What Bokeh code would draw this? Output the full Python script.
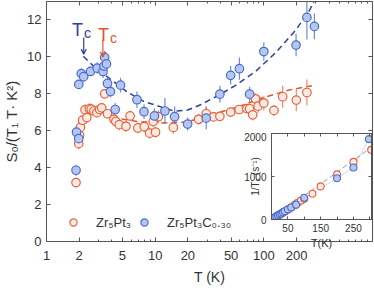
from bokeh.plotting import figure
from bokeh.models import (ColumnDataSource, FixedTicker, LogAxis, LinearAxis, Legend,
                          LegendItem, Arrow, OpenHead, CustomJSTickFormatter)
from bokeh.layouts import column
from bokeh.embed import file_html
from bokeh.resources import INLINE
from bokeh.core.properties import value

# ---------------- data ----------------
red_T = [1.87, 1.98, 2.02, 2.05, 2.15, 2.26, 2.35, 2.48, 2.58, 2.73, 2.91, 3.08, 3.22, 3.43,
         3.64, 4.17, 4.35, 4.67, 5.39, 5.88, 6.93, 7.94, 8.9, 9.6, 10.08, 10.7, 14.7,
         25.1, 29.5, 34.5, 39.4, 49.5, 59.3, 69.8, 74, 79, 83.8, 88.5, 100, 124, 149, 199, 249]
red_S = [3.19, 5.3, 5.75, 6.18, 6.57, 7.13, 6.71, 7.19, 7.17, 7.07, 6.98, 7.15, 7.24, 8.0,
         6.92, 6.62, 6.5, 6.33, 6.24, 6.8, 6.15, 6.22, 5.87, 6.5, 5.92, 6.76, 6.18,
         6.62, 6.92, 6.75, 6.78, 7.01, 7.15, 7.2, 7.19, 6.86, 7.73, 7.33, 7.5, 7.1, 7.84, 7.66, 8.07]
red_err = [0.25, 0.3, 0.25, 0.25, 0.25, 0.3, 0.3, 0.3, 0.3, 0.25, 0.25, 0.25, 0.25, 0.2,
           0.25, 0.3, 0.3, 0.3, 0.3, 0.25, 0.3, 0.3, 0.3, 0.3, 0.3, 0.35, 0.35,
           0.3, 0.4, 0.2, 0.2, 0.2, 0.25, 0.2, 0.3, 0.3, 0.3, 0.35, 0.4, 0.3, 0.6, 0.6, 0.7]

blue_T = [1.87, 1.89, 1.98, 1.98, 2.09, 2.2, 2.54, 2.93, 3.31, 3.38, 3.43, 3.56, 3.64, 3.88,
          4.29, 4.8, 6.8, 7.9, 9.85, 12.3, 15.1, 19.9, 29.5, 39.4, 49.5, 59.6, 74, 100,
          198, 249, 292]
blue_S = [3.86, 5.92, 5.57, 8.51, 9.09, 8.93, 9.21, 9.39, 9.21, 9.5, 9.97, 9.62, 8.56, 8.12,
          7.15, 8.47, 7.68, 7.03, 6.8, 7.07, 6.76, 6.36, 6.68, 7.98, 9.0, 9.36, 7.98, 10.29,
          10.64, 12.14, 11.65]
blue_err = [0.3, 0.3, 0.3, 0.25, 0.3, 0.3, 0.25, 0.3, 0.35, 0.3, 0.35, 0.3, 0.3, 0.3,
            0.35, 0.4, 0.45, 0.4, 0.4, 0.7, 0.55, 0.35, 0.6, 0.45, 0.5, 0.6, 0.4, 0.5,
            0.6, 1.2, 0.7]

red_fit_T = [3.3, 4.26, 6.8, 12, 19.9, 30.6, 54.5, 96, 171, 280]
red_fit_S = [7.0, 6.7, 6.5, 6.42, 6.48, 6.82, 7.24, 7.77, 8.21, 8.44]
blue_fit_T = [2.18, 2.87, 3.82, 5.47, 7.84, 12, 15, 19.9, 26.5, 38, 54.5, 84, 129, 198, 262, 292]
blue_fit_S = [10.03, 9.36, 8.83, 8.12, 7.59, 7.24, 7.06, 7.12, 7.42, 7.91, 8.44, 9.21, 10.24,
              11.47, 12.5, 13.05]

x_major = [1, 2, 5, 10, 20, 50, 100, 200]
x_minor = [3, 4, 6, 7, 8, 9, 30, 40, 60, 70, 80, 90, 300, 400, 500, 600, 700, 800, 900]
y_ticks = [0, 2, 4, 6, 8, 10, 12]

# Tc annotations: [blue, red]
tc_T = [2.2, 3.3]
tc_label_T = [1.72, 2.98]
tc_label_S = [11.45, 11.2]
tc_arrow_top = [11.05, 10.94]
tc_arrow_bottom = [10.15, 10.0]

# inset: 1/T1 vs T
in_red_T = [2, 3, 4, 5, 7, 10, 15, 20, 25, 30, 40, 50, 60, 70, 75, 80, 90, 100, 125, 150, 200, 250, 304]
in_red_R = [8, 14, 18, 22, 30, 42, 62, 85, 110, 135, 180, 230, 280, 330, 360, 390, 440, 480, 600, 770, 1050, 1340, 1620]
in_blue_T = [2, 3, 4, 6, 8, 10, 15, 20, 25, 30, 35, 40, 50, 60, 75, 100, 200, 250, 297]
in_blue_R = [8, 14, 20, 28, 38, 48, 72, 95, 120, 140, 165, 190, 235, 280, 345, 505, 960, 1210, 1870]
in_fit_T = [0, 305]
in_fit_R = [0, 1680]
in_x_ticks = [0, 50, 100, 150, 200, 250, 300]
in_y_ticks = [0, 1000, 2000]

# ---------------- style ----------------
FONT = "Liberation Sans"
RED = "#e8603a"
RED_FILL = "#fdebe4"
RED_ERR = "#f08a68"
BLUE = "#4a6cd0"
BLUE_FILL = "#b6c7ef"
BLUE_ERR = "#6f8ad8"
RED_DASH = "#e0552c"
BLUE_DASH = "#2b409f"
AX = "#555555"
TXT = "#333333"

blank = CustomJSTickFormatter(code="return ''")

p = figure(width=374, height=287, x_axis_type="log", x_range=(1, 1000), y_range=(0, 13),
           output_backend="svg", toolbar_location=None,
           min_border_left=42, min_border_right=1, min_border_top=1, min_border_bottom=30)
p.grid.visible = False
p.outline_line_color = AX
p.background_fill_color = "white"


def style_axis(ax, labels=True, size="13px"):
    ax.axis_line_color = AX
    ax.major_tick_line_color = AX
    ax.minor_tick_line_color = AX
    ax.major_tick_in = 4
    ax.major_tick_out = 0
    ax.minor_tick_in = 2
    ax.minor_tick_out = 0
    ax.major_label_text_font = FONT
    ax.major_label_text_color = TXT
    ax.axis_label_text_font = FONT
    ax.axis_label_text_color = TXT
    ax.axis_label_text_font_style = "normal"
    ax.major_label_text_font_size = size
    if not labels:
        ax.formatter = blank
        ax.major_label_standoff = 0
        ax.axis_label_standoff = 0


xt = FixedTicker(ticks=x_major, minor_ticks=x_minor)
yt = FixedTicker(ticks=y_ticks, minor_ticks=[])
p.xaxis.ticker = xt
p.yaxis.ticker = yt
p.xaxis.major_label_overrides = {t: str(t) for t in x_major}
style_axis(p.xaxis[0])
style_axis(p.yaxis[0])
p.xaxis.major_label_standoff = 9
p.yaxis.major_label_standoff = 5
p.xaxis.axis_label = "T (K)"
p.xaxis.axis_label_text_font_size = "14px"
p.xaxis.axis_label_standoff = 6
p.yaxis.axis_label = "S₀/(T₁ T· K²)"
p.yaxis.axis_label_text_font_size = "15px"
p.yaxis.axis_label_standoff = 4

top = LogAxis(ticker=FixedTicker(ticks=x_major, minor_ticks=x_minor))
style_axis(top, labels=False, size="1px")
p.add_layout(top, "above")
right = LinearAxis(ticker=FixedTicker(ticks=y_ticks, minor_ticks=[]))
style_axis(right, labels=False, size="1px")
p.add_layout(right, "right")

# fits
p.line(red_fit_T, red_fit_S, line_color=RED_DASH, line_width=1.5, line_dash="6 4")
p.line(blue_fit_T, blue_fit_S, line_color=BLUE_DASH, line_width=1.5, line_dash="6 4")

# error bars
rsrc = ColumnDataSource(dict(T=red_T, S=red_S,
                             lo=[s - e for s, e in zip(red_S, red_err)],
                             hi=[s + e for s, e in zip(red_S, red_err)]))
bsrc = ColumnDataSource(dict(T=blue_T, S=blue_S,
                             lo=[s - e for s, e in zip(blue_S, blue_err)],
                             hi=[s + e for s, e in zip(blue_S, blue_err)]))
p.segment(x0="T", y0="lo", x1="T", y1="hi", source=rsrc, line_color=RED_ERR, line_width=1.2)
p.segment(x0="T", y0="lo", x1="T", y1="hi", source=bsrc, line_color=BLUE_ERR, line_width=1.2)
r_red = p.scatter("T", "S", source=rsrc, size=8.5, marker="circle", line_color=RED,
                  fill_color=RED_FILL, line_width=1.2)
r_blue = p.scatter("T", "S", source=bsrc, size=8.5, marker="circle", line_color=BLUE,
                   fill_color=BLUE_FILL, line_width=1.2)

# Tc annotations
tc_colors = [BLUE_DASH, RED_DASH]
tsrc = ColumnDataSource(dict(x=tc_label_T, y=tc_label_S, c=tc_colors))
p.text(x="x", y="y", text=value("T"), source=tsrc, text_color="c",
       text_font=value(FONT), text_font_size="18px", text_align="left",
       text_baseline="alphabetic")
p.text(x="x", y="y", text=value("c"), source=tsrc, text_color="c", x_offset=12, y_offset=3,
       text_font=value(FONT), text_font_size="14px", text_align="left",
       text_baseline="alphabetic")
for xv, y0, y1, c in zip(tc_T, tc_arrow_top, tc_arrow_bottom, tc_colors):
    p.add_layout(Arrow(x_start=xv, y_start=y0, x_end=xv, y_end=y1, line_color=c, line_width=1.2,
                       end=OpenHead(size=5, line_color=c, line_width=1.2)))

legend = Legend(items=[LegendItem(label="Zr₅Pt₃", renderers=[r_red]),
                       LegendItem(label="Zr₅Pt₃C₀.₃₀", renderers=[r_blue])],
                orientation="horizontal", location=(18, 10), padding=0, margin=0,
                glyph_width=18, glyph_height=18, label_standoff=14, spacing=4,
                label_text_font=FONT, label_text_font_size="13px", label_text_color=TXT,
                background_fill_alpha=0, border_line_color=None)
p.add_layout(legend, "center")

# ---------------- inset ----------------
ins = figure(width=148, height=119, x_range=(0, 305), y_range=(0, 2000),
             output_backend="svg", toolbar_location=None,
             min_border_left=36, min_border_right=2, min_border_top=1, min_border_bottom=30)
ins.grid.visible = False
ins.outline_line_color = AX
ins.background_fill_color = "white"
ins.border_fill_alpha = 0
ins.xaxis.ticker = FixedTicker(ticks=in_x_ticks, minor_ticks=[])
ins.yaxis.ticker = FixedTicker(ticks=in_y_ticks, minor_ticks=[])
ins.xaxis.major_label_overrides = {0: "", 100: "", 200: "", 300: ""}
for ax in (ins.xaxis[0], ins.yaxis[0]):
    style_axis(ax, size="10px")
    ax.major_tick_in = 3
ins.xaxis.major_label_standoff = 4
ins.yaxis.major_label_standoff = 5
ins.xaxis.axis_label = "T(K)"
ins.xaxis.axis_label_text_font_size = "11px"
ins.xaxis.axis_label_standoff = 2
ins.yaxis.axis_label = "1/T₁ (s⁻¹)"
ins.yaxis.axis_label_text_font_size = "10px"
ins.yaxis.axis_label_standoff = -20
itop = LinearAxis(ticker=FixedTicker(ticks=in_x_ticks, minor_ticks=[]))
style_axis(itop, labels=False, size="1px")
itop.major_tick_in = 3
ins.add_layout(itop, "above")
iright = LinearAxis(ticker=FixedTicker(ticks=in_y_ticks, minor_ticks=[]))
style_axis(iright, labels=False, size="1px")
iright.major_tick_in = 3
ins.add_layout(iright, "right")

ins.line(in_fit_T, in_fit_R, line_color="#999999", line_width=1, line_dash="5 3")
ins.line(in_blue_T, in_blue_R, line_color=BLUE, line_width=0.8, line_alpha=0.35)
ins.scatter(in_red_T, in_red_R, size=7, marker="circle", line_color=RED, fill_color=RED_FILL,
            line_width=1.1)
ins.scatter(in_blue_T, in_blue_R, size=7, marker="circle", line_color=BLUE,
            fill_color=BLUE_FILL, line_width=1.1)

ins.margin = (-155, 0, 0, 225)
layout = column(p, ins)

open("out.html", "w").write(file_html(layout, INLINE))
